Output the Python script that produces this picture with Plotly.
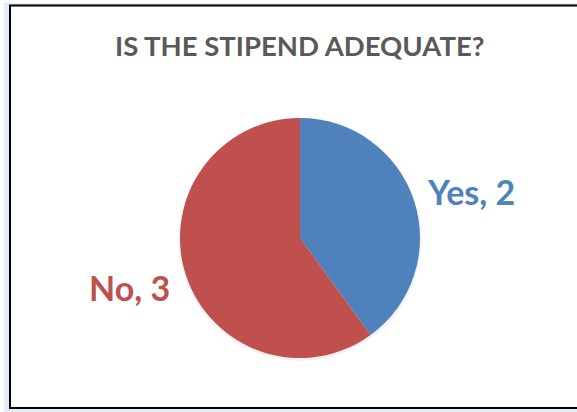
import plotly.graph_objects as go

W, H = 577, 412
title = "IS THE STIPEND ADEQUATE?"
categories = ["Yes", "No"]
values = [2, 3]
colors = ["#4F81BD", "#C0504D"]

def px(x):
    return x / W

def py(y):
    return 1 - y / H

fig = go.Figure()
fig.add_trace(go.Pie(
    labels=categories, values=values, sort=False, direction="clockwise",
    rotation=0, textinfo="none", hoverinfo="label+value",
    marker=dict(colors=colors, line=dict(width=0)),
    domain=dict(x=[px(180), px(420)], y=[py(358), py(118)]),
    showlegend=False,
))

shapes = [
    # faint outer glow
    dict(type="rect", xref="paper", yref="paper", x0=px(4), x1=px(580), y0=py(412), y1=py(3),
         line=dict(width=0), fillcolor="rgba(190,210,235,0.45)", layer="below"),
    dict(type="rect", xref="paper", yref="paper", x0=px(10), x1=px(582), y0=py(408), y1=py(5.5),
         line=dict(color="black", width=2), fillcolor="white", layer="below"),
    # soft pie shadow
    dict(type="circle", xref="paper", yref="paper", x0=px(178.5), x1=px(421.5), y0=py(361), y1=py(118),
         line=dict(width=0), fillcolor="rgba(0,0,0,0.05)", layer="below"),
]

label_pos = [(471, 191), (129.5, 287)]
annotations = [
    dict(text=f"<b>{title}</b>", x=px(299.5), y=py(46), xref="paper", yref="paper",
         showarrow=False, xanchor="center", yanchor="middle",
         font=dict(family="Lato", size=27.5, color="#595959")),
]
for (cat, val, col, (lx, ly)) in zip(categories, values, colors, label_pos):
    annotations.append(dict(text=f"<b>{cat}, {val}</b>", x=px(lx), y=py(ly), xref="paper", yref="paper",
                            showarrow=False, xanchor="center", yanchor="middle",
                            font=dict(family="Lato", size=34, color=col)))

fig.update_layout(width=W, height=H, margin=dict(l=0, r=0, t=0, b=0),
                  paper_bgcolor="white", plot_bgcolor="white",
                  shapes=shapes, annotations=annotations)
fig.write_html("out.html")
